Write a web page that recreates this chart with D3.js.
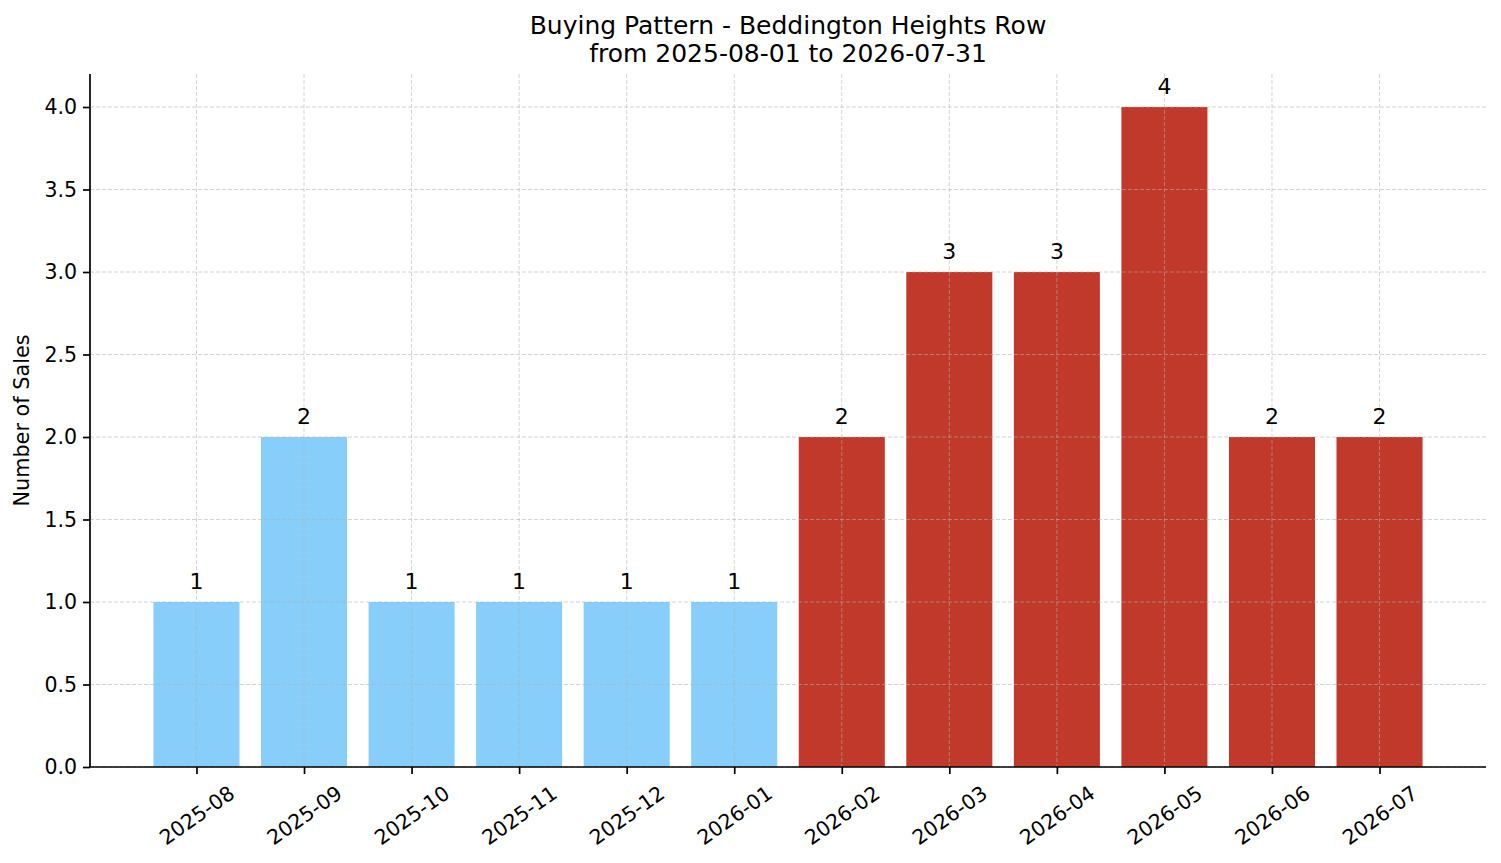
<!DOCTYPE html>
<html><head><meta charset="utf-8">
<script src="https://cdn.jsdelivr.net/npm/d3@7"></script>
<style>body{margin:0;background:#fff}svg{display:block;font-family:"DejaVu Sans",sans-serif}</style>
</head><body>
<svg id="c" width="1501" height="863"></svg>
<script>
const months = ["2025-08","2025-09","2025-10","2025-11","2025-12","2026-01","2026-02","2026-03","2026-04","2026-05","2026-06","2026-07"];
const sales = [1,2,1,1,1,1,2,3,3,4,2,2];
const periodGroup = ["before","before","before","before","before","before","after","after","after","after","after","after"];
const yTicks = [0,0.5,1,1.5,2,2.5,3,3.5,4];
const titleLines = ["Buying Pattern - Beddington Heights Row","from 2025-08-01 to 2026-07-31"];
const yLabel = "Number of Sales";

const colors = {before:"#87CEFA", after:"#C0392B"};
const svg = d3.select("#c");
const L=90, R=1486, T=74, B=767;
const idx = months.map((d,i)=>i);
const x = d3.scaleLinear().domain([-0.99, 11.99]).range([L,R]);
const y = d3.scaleLinear().domain([0,4.2]).range([B,T]);
const bw = x(0.8)-x(0);

// bars
svg.append("g").selectAll("rect").data(idx).join("rect")
  .attr("x", i=>x(i-0.4)).attr("width", bw)
  .attr("y", i=>y(sales[i])).attr("height", i=>B-y(sales[i]))
  .attr("fill", i=>colors[periodGroup[i]]);

// grid on top
const grid = svg.append("g").attr("stroke","#b0b0b0").attr("stroke-opacity",0.55).attr("stroke-width",1).attr("stroke-dasharray","4,2");
grid.selectAll("line.h").data(yTicks).join("line").attr("class","h")
  .attr("x1",L).attr("x2",R).attr("y1",d=>y(d)).attr("y2",d=>y(d));
grid.selectAll("line.v").data(idx).join("line").attr("class","v")
  .attr("x1",d=>x(d)).attr("x2",d=>x(d)).attr("y1",T).attr("y2",B);

// value labels
svg.append("g").selectAll("text").data(idx).join("text")
  .attr("x", i=>x(i)).attr("y", i=>y(sales[i])-13)
  .attr("text-anchor","middle").attr("font-size",22).attr("fill","#000")
  .text(i=>sales[i]);

// y axis
const yAxis = d3.axisLeft(y).tickValues(yTicks).tickFormat(d3.format(".1f")).tickSize(7).tickPadding(6);
const gy = svg.append("g").attr("transform",`translate(${L},0)`).call(yAxis);
gy.select(".domain").attr("d",`M0,${T}V${B}`).attr("stroke","#000").attr("stroke-width",1.7);
gy.selectAll(".tick line").attr("stroke","#000").attr("stroke-width",1.7);
gy.selectAll(".tick text").attr("font-size",20.5).attr("fill","#000").attr("font-family","DejaVu Sans");

// x axis
const xAxis = d3.axisBottom(x).tickValues(idx).tickFormat(i=>months[i]).tickSize(7).tickPadding(0);
const gx = svg.append("g").attr("transform",`translate(0,${B})`).call(xAxis);
gx.select(".domain").attr("d",`M${L},0H${R}`).attr("stroke","#000").attr("stroke-width",1.7);
gx.selectAll(".tick line").attr("stroke","#000").attr("stroke-width",1.7);
const ang = 35*Math.PI/180;
gx.selectAll(".tick text").attr("font-size",20.5).attr("fill","#000").attr("font-family","DejaVu Sans")
  .attr("text-anchor","middle").attr("dy",null).attr("dominant-baseline","central")
  .each(function(){
    const t=d3.select(this);
    const w=this.getComputedTextLength(), h=20.5*1.17;
    const cy = 14 + (w*Math.sin(ang)+h*Math.cos(ang))/2;
    t.attr("y",0).attr("transform",`translate(0,${cy}) rotate(-35)`);
  });

// title
svg.append("g").selectAll("text").data(titleLines).join("text")
  .attr("x",(L+R)/2).attr("y",(d,i)=>34+i*28).attr("text-anchor","middle")
  .attr("font-size",25).attr("fill","#000").text(d=>d);

// y label
svg.append("text").attr("transform",`translate(29,${(T+B)/2}) rotate(-90)`)
  .attr("text-anchor","middle").attr("font-size",20.8).attr("fill","#000").text(yLabel);
</script>
</body></html>
